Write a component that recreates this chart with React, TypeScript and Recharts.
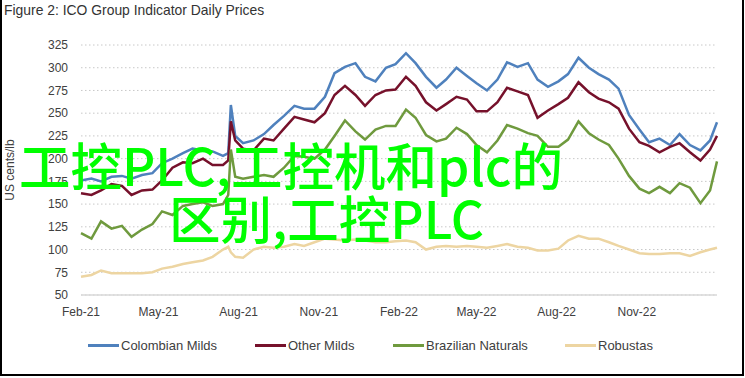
import { LineChart, Line, XAxis, YAxis, CartesianGrid } from "recharts";

// days since 1 Feb 2021
const days = [
  0, 12, 23, 35, 47, 58, 70, 82, 93, 105, 117, 128, 140, 151, 163, 169, 172, 177,
  186, 198, 210, 221, 233, 245, 256, 268, 280, 291, 303, 315, 326, 338, 350, 361,
  373, 384, 396, 408, 419, 431, 443, 454, 466, 478, 489, 501, 513, 524, 536, 548,
  559, 571, 583, 594, 606, 617, 629, 641, 652, 664, 676, 687, 699, 711, 722, 730,
];

const colombianMilds = [
  176, 178, 175, 180, 181, 178, 182, 184, 195, 200, 206, 211, 209, 208, 203, 206, 259, 225,
  217, 220, 227, 237, 247, 258, 255, 255, 268, 294, 301, 305, 290, 285, 300, 304,
  316, 305, 290, 278, 287, 300, 291, 283, 275, 287, 306, 301, 305, 287, 279, 285,
  293, 311, 300, 293, 287, 277, 248, 232, 218, 222, 215, 227, 215, 209, 220, 240,
];

const otherMilds = [
  162, 160, 165, 172, 170, 160, 165, 166, 176, 190, 196, 195, 200, 193, 193, 198, 241, 220,
  211, 209, 222, 220, 233, 246, 243, 240, 250, 270, 280, 270, 258, 270, 275, 276,
  290, 280, 262, 253, 260, 268, 265, 252, 252, 262, 278, 274, 270, 245, 253, 260,
  267, 284, 273, 266, 262, 255, 233, 218, 214, 207, 213, 217, 207, 198, 210, 225,
];

const brazilianNaturals = [
  118, 112, 131, 123, 126, 114, 122, 128, 142, 138, 148, 150, 152, 148, 150, 160, 210, 180,
  178, 180, 182, 180, 190, 203, 202, 200, 210, 225, 242, 230, 221, 232, 236, 236,
  254, 245, 226, 219, 222, 234, 227, 215, 207, 220, 237, 233, 228, 225, 213, 213,
  221, 241, 228, 221, 215, 200, 181, 167, 162, 169, 162, 173, 168, 151, 165, 197,
];

const robustas = [
  70, 72, 77, 74, 74, 74, 74, 75, 79, 81, 84, 86, 88, 92, 100, 103, 97, 92,
  91, 100, 103, 102, 103, 106, 104, 108, 112, 111, 110, 111, 110, 108, 108, 109,
  110, 108, 100, 103, 104, 103, 104, 103, 102, 104, 106, 103, 102, 99, 99, 101,
  110, 115, 112, 112, 108, 104, 100, 96, 95, 95, 96, 96, 93, 97, 100, 102,
];

const tickDays = [0, 89, 181, 273, 365, 454, 546, 638];
const tickLabels = ["Feb-21", "May-21", "Aug-21", "Nov-21", "Feb-22", "May-22", "Aug-22", "Nov-22"];
const yTicks = [50, 75, 100, 125, 150, 175, 200, 225, 250, 275, 300, 325];

const series = [
  { key: "colombian", name: "Colombian Milds", color: "#4F81BD", legendX: 88 },
  { key: "other", name: "Other Milds", color: "#76112B", legendX: 255 },
  { key: "brazilian", name: "Brazilian Naturals", color: "#6F9A3E", legendX: 393 },
  { key: "robustas", name: "Robustas", color: "#EDD5A2", legendX: 565 },
];

const data = days.map((d, i) => ({
  day: d,
  colombian: colombianMilds[i],
  other: otherMilds[i],
  brazilian: brazilianNaturals[i],
  robustas: robustas[i],
}));

const FONT = '"Liberation Sans", Arial, sans-serif';

export default function App() {
  return (
    <div
      style={{
        position: "absolute",
        left: 0,
        top: 0,
        width: 745,
        height: 378,
        background: "#fff",
        fontFamily: FONT,
        color: "#404040",
        overflow: "hidden",
      }}
    >
      <div style={{ position: "absolute", left: 4, top: 2, fontSize: 13.9, color: "#333" }}>
        Figure 2: ICO Group Indicator Daily Prices
      </div>
      <div
        style={{
          position: "absolute",
          left: 10,
          top: 170,
          transform: "translate(-50%, -50%) rotate(-90deg)",
          fontSize: 12,
          whiteSpace: "nowrap",
        }}
      >
        US cents/lb
      </div>

      <LineChart
        width={745}
        height={378}
        data={data}
        margin={{ top: 45, right: 28, left: 0, bottom: 53 }}
        style={{ fontFamily: FONT }}
      >
        <CartesianGrid vertical={false} stroke="#C8C8C8" strokeDasharray="1.5 2.5" />
        <XAxis
          dataKey="day"
          type="number"
          domain={[0, 730]}
          ticks={tickDays}
          tickFormatter={(v: number) => tickLabels[tickDays.indexOf(v)]}
          height={30}
          tickLine={false}
          tickSize={0}
          tickMargin={12}
          axisLine={{ stroke: "#D9D9D9", strokeWidth: 1.5 }}
          tick={{ fill: "#404040", fontSize: 12 }}
          interval={0}
        />
        <YAxis
          type="number"
          domain={[50, 325]}
          ticks={yTicks}
          width={81}
          tickLine={false}
          tickSize={0}
          tickMargin={13}
          axisLine={false}
          tick={{ fill: "#404040", fontSize: 12 }}
          interval={0}
        />
        {series.map((s) => (
          <Line
            key={s.key}
            dataKey={s.key}
            name={s.name}
            stroke={s.color}
            strokeWidth={2.5}
            dot={false}
            type="linear"
            isAnimationActive={false}
          />
        ))}
      </LineChart>

      {series.map((s) => (
        <div
          key={s.key}
          style={{
            position: "absolute",
            left: s.legendX,
            top: 336,
            height: 18,
            display: "flex",
            alignItems: "center",
            fontSize: 13,
            whiteSpace: "nowrap",
          }}
        >
          <span style={{ display: "inline-block", width: 31, height: 3, background: s.color, marginRight: 2 }} />
          {s.name}
        </div>
      ))}

      <div
        style={{
          position: "absolute",
          left: 19,
          top: 138,
          fontFamily: '"Noto Sans CJK SC", sans-serif',
          fontSize: 51.5,
          lineHeight: "51px",
          color: "#00FF00",
          whiteSpace: "nowrap",
          fontWeight: 500,
        }}
      >
        工控PLC,工控机和plc的
      </div>
      <div
        style={{
          position: "absolute",
          left: 169,
          top: 191,
          fontFamily: '"Noto Sans CJK SC", sans-serif',
          fontSize: 51.5,
          lineHeight: "51px",
          color: "#00FF00",
          whiteSpace: "nowrap",
          fontWeight: 500,
        }}
      >
        区别,工控PLC
      </div>

      <div
        style={{
          position: "absolute",
          left: 0,
          top: -2,
          width: 744,
          height: 378,
          boxSizing: "border-box",
          border: "2px solid #000",
          pointerEvents: "none",
        }}
      />
    </div>
  );
}
